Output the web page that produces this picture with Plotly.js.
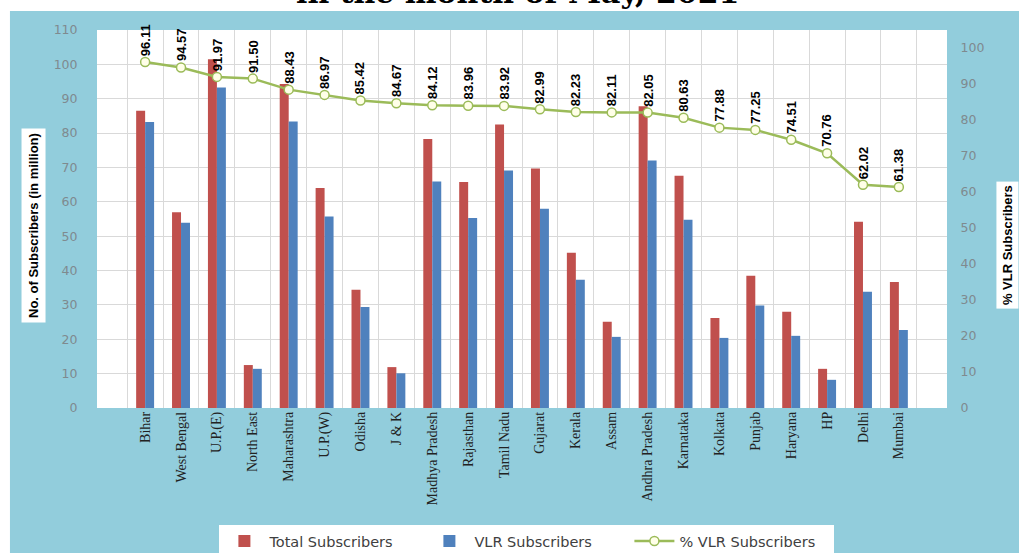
<!DOCTYPE html>
<html><head><meta charset="utf-8">
<script src="https://cdn.plot.ly/plotly-3.0.1.min.js"></script>
<style>html,body{margin:0;padding:0;background:#fff;} #chart{width:1019px;height:553px;}</style>
</head><body><div id="chart"></div>
<script>
const circles = ['Bihar','West Bengal','U.P.(E)','North East','Maharashtra','U.P.(W)','Odisha','J & K','Madhya Pradesh','Rajasthan','Tamil Nadu','Gujarat','Kerala','Assam','Andhra Pradesh','Karnataka','Kolkata','Punjab','Haryana','HP','Delhi','Mumbai'];
const totalSubscribers = [86.5, 57.0, 101.5, 12.5, 94.3, 64.0, 34.4, 11.9, 78.3, 65.8, 82.5, 69.7, 45.2, 25.1, 87.8, 67.6, 26.2, 38.5, 28.0, 11.4, 54.2, 36.7];
const vlrSubscribers = [83.2, 53.9, 93.3, 11.4, 83.4, 55.7, 29.4, 10.1, 65.9, 55.3, 69.1, 58.0, 37.3, 20.7, 72.0, 54.8, 20.4, 29.8, 21.0, 8.2, 33.8, 22.7];
const vlrPercent = [96.11, 94.57, 91.97, 91.50, 88.43, 86.97, 85.42, 84.67, 84.12, 83.96, 83.92, 82.99, 82.23, 82.11, 82.05, 80.63, 77.88, 77.25, 74.51, 70.76, 62.02, 61.38];
const leftTicks = [0,10,20,30,40,50,60,70,80,90,100,110];
const rightTicks = [0,10,20,30,40,50,60,70,80,90,100];
const titleText = 'in the month of May, 2021';
const leftTitle = 'No. of Subscribers (in million)';
const rightTitle = '% VLR Subscribers';

const traces = [
  {type:'bar', name:'Total Subscribers', x:circles, y:totalSubscribers, marker:{color:'#C0504D'}, yaxis:'y'},
  {type:'bar', name:'VLR Subscribers', x:circles, y:vlrSubscribers, marker:{color:'#4F81BD'}, yaxis:'y'},
  {type:'scatter', mode:'lines+markers', name:'% VLR Subscribers', x:circles, y:vlrPercent, yaxis:'y2',
   line:{color:'#9BBB59', width:2.5}, marker:{symbol:'circle', size:9, color:'#FFFFE8', line:{color:'#9BBB59', width:1.5}}}
];

const pctLabels = circles.map((c,i)=>({
  xref:'x', yref:'y2', x:c, y:vlrPercent[i], text:'<b>'+vlrPercent[i].toFixed(2)+'</b>',
  textangle:-90, showarrow:false, yanchor:'bottom', yshift:4,
  font:{family:'Liberation Sans, Arial, sans-serif', size:13, color:'#000'}
}));

const layout = {
  width:1019, height:553,
  margin:{l:97, r:72, t:30, b:145, pad:0, autoexpand:false},
  paper_bgcolor:'#92CDDC', plot_bgcolor:'#FFFFFF',
  barmode:'group', bargap:0.5, bargroupgap:0,
  showlegend:true,
  xaxis:{type:'category', tickangle:-90, tickson:'boundaries', ticks:'outside', ticklen:5, tickcolor:'rgba(0,0,0,0)', showgrid:true, gridcolor:'#D9D9D9', gridwidth:1,
    tickfont:{family:'Liberation Serif, Times New Roman, serif', size:14, color:'#222'}, showline:false, automargin:false, fixedrange:true},
  yaxis:{range:[0,110], tickvals:leftTicks, showgrid:true, gridcolor:'#D9D9D9', zeroline:false, showline:false,
    ticks:'outside', ticklen:16, tickcolor:'rgba(0,0,0,0)', tickfont:{family:'DejaVu Sans, sans-serif', size:12.5, color:'#7F8A8F'}, automargin:false},
  yaxis2:{range:[0,105], tickvals:rightTicks, overlaying:'y', side:'right', showgrid:false, zeroline:false, showline:false,
    ticks:'outside', ticklen:10, tickcolor:'rgba(0,0,0,0)', tickfont:{family:'DejaVu Sans, sans-serif', size:12.5, color:'#7F8A8F'}, automargin:false},
  legend:{orientation:'h', x:0.144, xanchor:'left', y:-0.3095, yanchor:'top', bgcolor:'#FFFFFF', borderwidth:0,
    font:{family:'DejaVu Sans, sans-serif', size:14.5, color:'#404040'}, entrywidth:150, itemwidth:40, traceorder:'normal'},
  shapes:[
    {type:'rect', xref:'paper', yref:'paper', x0:-0.3, x1:1.3, y0:1.0503, y1:1.3, fillcolor:'#FFFFFF', line:{width:0}, layer:'above'},
    {type:'rect', xref:'paper', yref:'paper', x0:-0.3, x1:-0.1024, y0:-0.6, y1:1.3, fillcolor:'#FFFFFF', line:{width:0}, layer:'above'}
  ],
  annotations:[
    {xref:'paper', yref:'paper', x:0.495, y:1.047, xanchor:'center', yanchor:'bottom', showarrow:false,
     text:'<b>'+titleText+'</b>', font:{family:'DejaVu Serif, serif', size:30, color:'#000'}},
    {xref:'paper', yref:'paper', x:-0.0741, y:0.4815, xanchor:'center', yanchor:'middle', showarrow:false, textangle:-90,
     text:'<b>'+leftTitle+'</b>', bgcolor:'#FFFFFF', borderpad:4, font:{family:'Liberation Sans, Arial, sans-serif', size:13, color:'#000'}},
    {xref:'paper', yref:'paper', x:1.0706, y:0.431, xanchor:'center', yanchor:'middle', showarrow:false, textangle:-90,
     text:'<b>'+rightTitle+'</b>', bgcolor:'#FFFFFF', borderpad:3, font:{family:'Liberation Sans, Arial, sans-serif', size:13, color:'#000'}}
  ].concat(pctLabels)
};

Plotly.newPlot('chart', traces, layout, {displayModeBar:false, staticPlot:true});
</script>
</body></html>
